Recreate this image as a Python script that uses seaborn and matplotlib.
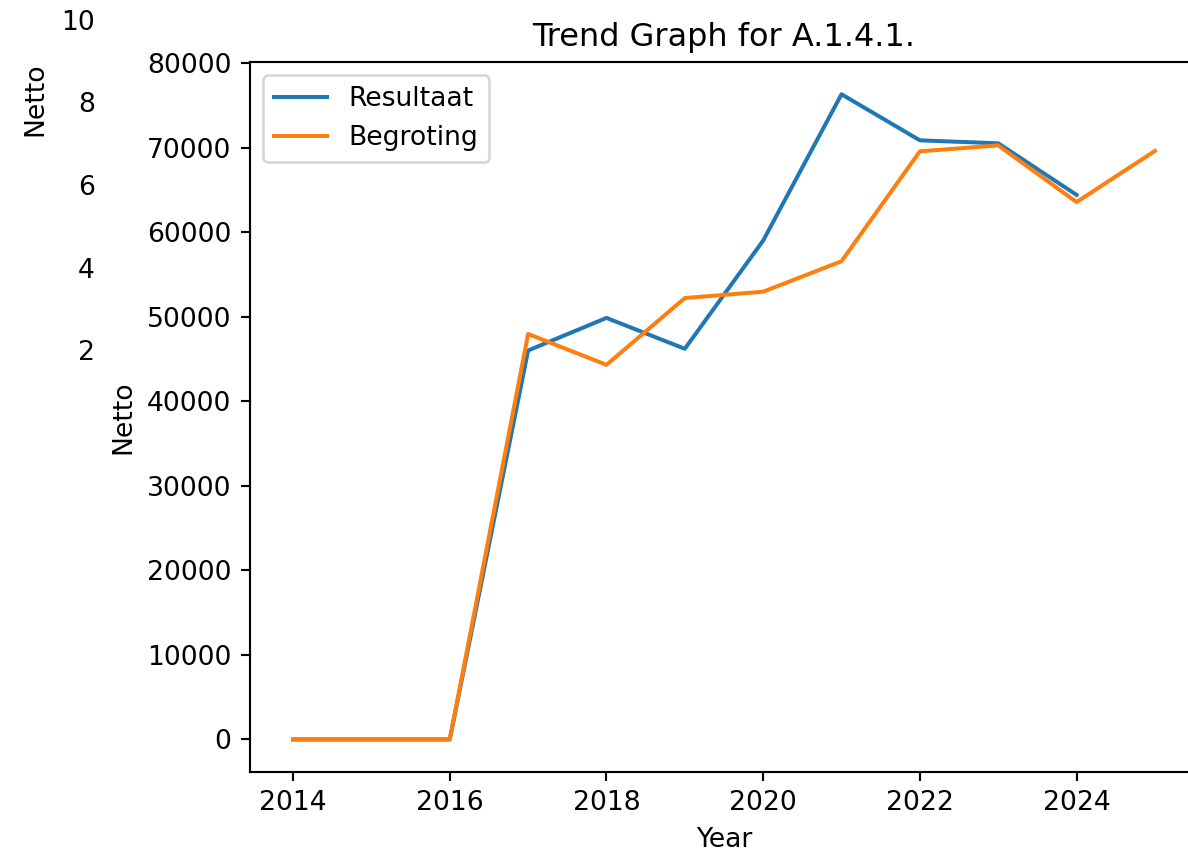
import numpy as np
import pandas as pd
import matplotlib
matplotlib.use("Agg")
import matplotlib.pyplot as plt
import seaborn as sns

# =============================
# 1) DATA (read off the reference)
# =============================

years = [2014, 2015, 2016, 2017, 2018, 2019, 2020, 2021, 2022, 2023, 2024, 2025]
resultaat = [0, 0, 0, 46000, 49850, 46200, 59000, 76300, 70850, 70500, 64400, np.nan]
begroting = [0, 0, 0, 47950, 44300, 52200, 52950, 56550, 69550, 70250, 63550, 69600]

ghost_ticks = [2, 4, 6, 8, 10]

# =============================
# 2) FIGURE + AXES
# =============================

DPI = 192
W, H = 1188, 850
fig = plt.figure(figsize=(W / DPI, H / DPI), dpi=DPI)

# main axes (runs past the right edge, as in the cropped reference)
ax = fig.add_axes([250 / W, (H - 771.7) / H, 948 / W, 709.7 / H])
ax.spines["right"].set_visible(False)

# leftover empty axes showing 2..10 and its own "Netto" label
ghost = fig.add_axes([104.3 / W, (H - 432.5) / H, 59.4 / W, 412.5 / H])
ghost.set_frame_on(False)
ghost.patch.set_alpha(0)
ghost.set_ylim(0, 10)
ghost.set_yticks(ghost_ticks)
ghost.set_xticks([])
ghost.tick_params(axis="y", length=0)
ghost.set_ylabel("Netto")
ghost.yaxis.set_label_coords((48 - 104.3) / 59.4, (432.5 - 99) / 412.5)

# =============================
# 3) LINES
# =============================

df = pd.DataFrame({"Year": years, "Resultaat": resultaat, "Begroting": begroting})

sns.lineplot(data=df, x="Year", y="Resultaat", ax=ax, label="Resultaat", color="#1f77b4")
sns.lineplot(data=df, x="Year", y="Begroting", ax=ax, label="Begroting", color="#ff7f0e")

ax.set_title("Trend Graph for A.1.4.1.")
ax.set_xlabel("Year")
ax.set_ylabel("Netto")
ax.set_xticks([2014, 2016, 2018, 2020, 2022, 2024])
ax.legend(loc="upper left")

fig.savefig("out.png", dpi=DPI)
plt.close(fig)
